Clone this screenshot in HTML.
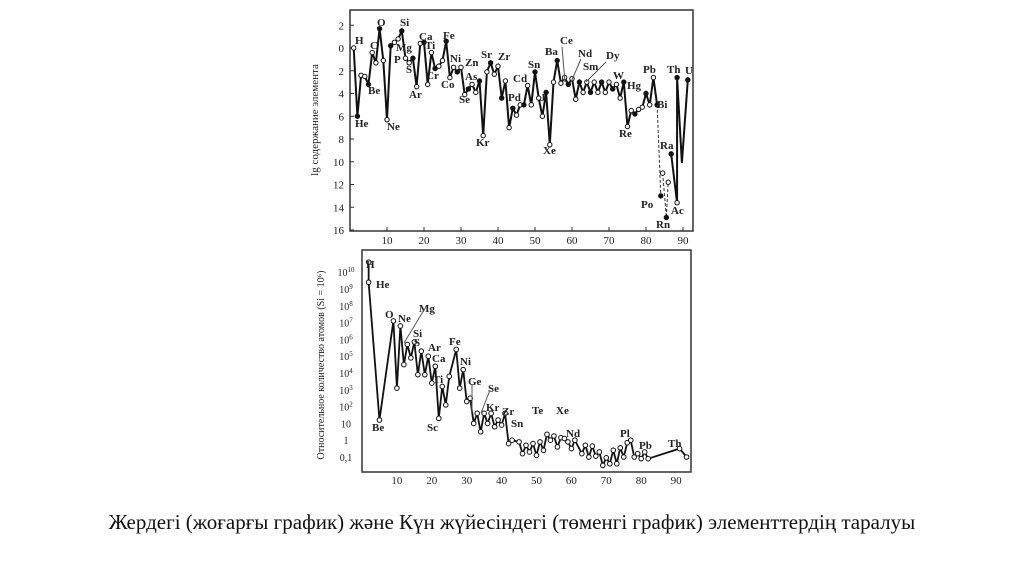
<!DOCTYPE html>
<html><head><meta charset="utf-8">
<style>
html,body{margin:0;padding:0;background:#fff;width:1024px;height:574px;overflow:hidden}
svg{position:absolute;left:0;top:0}
.cap{position:absolute;left:0;width:1024px;top:510px;text-align:center;font-family:"Liberation Serif",serif;font-size:21px;color:#111;white-space:nowrap}
</style></head><body>
<svg id="s" width="1024" height="574" xmlns="http://www.w3.org/2000/svg" font-family="Liberation Serif, serif" fill="#222"></svg>
<div class="cap">Жердегі (жоғарғы график) және Күн жүйесіндегі (төменгі график) элементтердің таралуы</div>
<script>
var S=document.getElementById('s'),h='';
function X1(z){return 350+z*3.7;} function Y1(v){return 48+v*11.375;}
function X2(z){return 362+z*3.49;} function Y2(l){return 457-(l+1)*16.8;}
h+='<rect x="350" y="10" width="343" height="221" fill="none" stroke="#333" stroke-width="1.5"/>';
[-2,0,2,4,6,8,10,12,14,16].forEach(function(v){var y=Y1(v);h+='<line x1="350" y1="'+y+'" x2="354" y2="'+y+'" stroke="#333"/><text x="344" y="'+(y+4)+'" font-size="11" text-anchor="end">'+Math.abs(v)+'</text>';});
for(var z=10;z<=90;z+=10){h+='<line x1="'+X1(z)+'" y1="231" x2="'+X1(z)+'" y2="227" stroke="#333"/><text x="'+X1(z)+'" y="244" font-size="11" text-anchor="middle">'+z+'</text>';}
h+='<text transform="translate(318,120) rotate(-90)" font-size="11" text-anchor="middle">lg содержание  элемента</text>';
var T=[[1,0],[2,6],[3,2.4],[4,2.5],[5,3.2],[6,0.4],[7,1.3],[8,-1.7],[9,1.1],[10,6.3],[11,-0.2],[12,-0.5],[13,-0.8],[14,-1.5],[15,0.9],[16,1.3],[17,0.9],[18,3.4],[19,-0.4],[20,-0.5],[21,3.2],[22,0.4],[23,1.8],[24,1.6],[25,1.1],[26,-0.6],[27,2.6],[28,1.7],[29,2.1],[30,1.7],[31,4.1],[32,3.6],[33,3.2],[34,3.9],[35,2.9],[36,7.7],[37,2.1],[38,1.3],[39,2.3],[40,1.6],[41,4.4],[42,2.9],[43,7.0],[44,5.3],[45,5.9],[46,5.0],[47,5.0],[48,3.3],[49,5.0],[50,2.1],[51,4.4],[52,6.0],[53,3.9],[54,8.5],[55,3.0],[56,1.1],[57,3.1],[58,2.6],[59,3.2],[60,2.7],[61,4.5],[62,3.0],[63,3.9],[64,3.0],[65,3.9],[66,3.0],[67,3.9],[68,3.0],[69,3.9],[70,3.0],[71,3.6],[72,3.2],[73,4.4],[74,3.0],[75,6.9],[76,5.5],[77,5.8],[78,5.4],[79,5.2],[80,4.0],[81,5.0],[82,2.6],[83,5.0]];
var p=T.map(function(d){return X1(d[0])+','+Y1(d[1]);}).join(' ');
h+='<polyline points="'+p+'" fill="none" stroke="#111" stroke-width="2"/>';
T.forEach(function(d,i){h+='<circle cx="'+X1(d[0])+'" cy="'+Y1(d[1])+'" r="2.2" fill="'+(i%3==1?'#111':'#fff')+'" stroke="#111"/>';});
h+='<polyline points="'+X1(83)+','+Y1(5)+' '+X1(84)+','+Y1(13)+'" fill="none" stroke="#333" stroke-dasharray="3,2"/>';
h+='<polyline points="'+X1(84.5)+','+Y1(11)+' '+X1(85.5)+','+Y1(14.9)+' '+X1(86)+','+Y1(11.8)+'" fill="none" stroke="#333" stroke-dasharray="3,2"/>';
h+='<polyline points="'+X1(86.8)+','+Y1(9.3)+' '+X1(88.4)+','+Y1(13.6)+' '+X1(88.4)+','+Y1(2.6)+' '+X1(89.7)+','+Y1(10.1)+' '+X1(91.3)+','+Y1(2.8)+'" fill="none" stroke="#111" stroke-width="2"/>';
[[84,13,1],[84.5,11,0],[85.5,14.9,1],[86,11.8,0],[86.8,9.3,1],[88.4,13.6,0],[88.4,2.6,1],[91.3,2.8,1]].forEach(function(d){h+='<circle cx="'+X1(d[0])+'" cy="'+Y1(d[1])+'" r="2.2" fill="'+(d[2]?'#111':'#fff')+'" stroke="#111"/>';});
var L1=[['H',355,44],['He',355,127],['Be',368,94],['C',370,49],['O',377,26],['Si',400,26],['Mg',396,51],['P',394,63],['S',406,73],['Ne',387,130],['Ca',419,40],['Fe',443,39],['Ti',425,49],['Cr',426,79],['Ar',409,98],['Ni',450,62],['Co',441,88],['Zn',465,66],['As',465,80],['Se',459,103],['Sr',481,58],['Zr',498,60],['Kr',476,146],['Cd',513,82],['Pd',508,101],['Sn',528,68],['J',540,101],['Xe',543,154],['Ba',545,55],['Ce',560,44],['Nd',578,57],['Sm',583,70],['Dy',606,59],['W',613,79],['Re',619,137],['Hg',627,89],['Pb',643,73],['Bi',657,108],['Th',667,73],['U',685,74],['Ra',660,149],['Po',641,208],['Rn',656,228],['Ac',671,214]];
L1.forEach(function(l){h+='<text x="'+l[1]+'" y="'+l[2]+'" font-size="11" font-weight="bold">'+l[0]+'</text>';});
h+='<line x1="562" y1="47" x2="565" y2="82" stroke="#555"/><line x1="581" y1="59" x2="571" y2="82" stroke="#555"/><line x1="606" y1="62" x2="586" y2="82" stroke="#555"/>';
h+='<rect x="362" y="250" width="329" height="222" fill="none" stroke="#333" stroke-width="1.5"/>';
var yl=[[10,'10<tspan font-size="7" dy="-4">10</tspan>'],[9,'10<tspan font-size="7" dy="-4">9</tspan>'],[8,'10<tspan font-size="7" dy="-4">8</tspan>'],[7,'10<tspan font-size="7" dy="-4">7</tspan>'],[6,'10<tspan font-size="7" dy="-4">6</tspan>'],[5,'10<tspan font-size="7" dy="-4">5</tspan>'],[4,'10<tspan font-size="7" dy="-4">4</tspan>'],[3,'10<tspan font-size="7" dy="-4">3</tspan>'],[2,'10<tspan font-size="7" dy="-4">2</tspan>'],[1,'10'],[0,'1'],[-1,'0,1']];
yl.forEach(function(d){h+='<text x="346" y="'+(Y2(d[0])+4)+'" font-size="10" text-anchor="middle">'+d[1]+'</text>';});
for(var z=10;z<=90;z+=10){h+='<text x="'+X2(z)+'" y="484" font-size="11" text-anchor="middle">'+z+'</text>';}
h+='<text transform="translate(324,365) rotate(-90)" font-size="10" text-anchor="middle">Относительное количество атомов (Si = 10⁶)</text>';
var B=[[1,10.6],[1.2,9.4],[4,1.2],[8,7.1],[9,3.1],[10,6.8],[11,4.5],[12,5.7],[13,4.9],[14,5.85],[15,3.9],[16,5.3],[17,3.9],[18,5.0],[19,3.4],[20,4.4],[21,1.3],[22,3.2],[23,2.1],[24,3.8],[26,5.4],[27,3.1],[28,4.2],[29,2.3],[30,2.5],[31,1.0],[32,1.6],[33,0.5],[34,1.6],[35,1.0],[36,1.6],[37,0.8],[38,1.2],[39,0.9],[40,1.6],[41,-0.2],[42,0],[44,-0.1],[45,-0.8],[46,-0.3],[47,-0.7],[48,-0.2],[49,-0.9],[50,-0.1],[51,-0.6],[52,0.35],[53,0],[54,0.25],[55,-0.4],[56,0.15],[57,0.1],[58,-0.1],[59,-0.5],[60,0],[62,-0.8],[63,-0.3],[64,-1],[65,-0.35],[66,-0.95],[67,-0.7],[68,-1.5],[69,-1.05],[70,-1.4],[71,-0.6],[72,-1.4],[73,-0.45],[74,-1.0],[75,-0.15],[76,0],[77,-1.0],[78,-0.8],[79,-1.1],[80,-0.7],[81,-1.1],[90,-0.5],[92,-1.0]];
B=B.map(function(d){return [d[0]+1,d[1]];});B[0][0]=1.9;B[1][0]=1.9;
h+='<polyline points="'+B.map(function(d){return X2(d[0])+','+Y2(d[1]);}).join(' ')+'" fill="none" stroke="#111" stroke-width="1.8"/>';
B.forEach(function(d){h+='<circle cx="'+X2(d[0])+'" cy="'+Y2(d[1])+'" r="2.3" fill="#fff" stroke="#111"/>';});
var L2=[['H',366,268],['He',376,288],['O',385,318],['Ne',398,322],['Mg',419,312],['Si',413,337],['S',414,346],['Ar',428,351],['Fe',449,345],['Ca',432,362],['Ni',460,365],['Ti',433,383],['Ge',468,385],['Se',488,392],['Kr',486,411],['Zr',502,415],['Be',372,431],['Sc',427,431],['Sn',511,427],['Te',532,414],['Xe',556,414],['Nd',566,437],['Pl',620,437],['Pb',639,449],['Th',668,447]];
L2.forEach(function(l){h+='<text x="'+l[1]+'" y="'+l[2]+'" font-size="11" font-weight="bold">'+l[0]+'</text>';});
h+='<line x1="424" y1="310" x2="404" y2="343" stroke="#555"/><line x1="472" y1="384" x2="472" y2="413" stroke="#555"/><line x1="490" y1="390" x2="481" y2="413" stroke="#555"/>';
S.innerHTML=h;
</script>
</body></html>
